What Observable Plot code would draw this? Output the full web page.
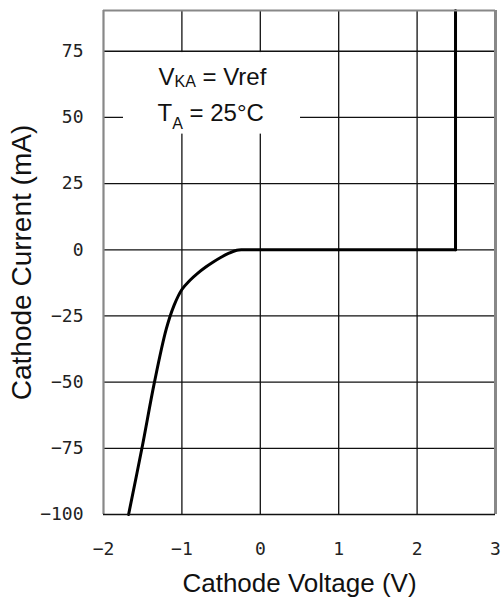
<!DOCTYPE html>
<html>
<head>
<meta charset="utf-8">
<script src="https://cdn.jsdelivr.net/npm/d3@7"></script>
<script src="https://cdn.jsdelivr.net/npm/@observablehq/plot@0.6"></script>
<style>
  html, body { margin: 0; padding: 0; background: white; overflow: hidden; }
</style>
</head>
<body>
<div id="chart"></div>
<script>
// Data
const xTicks = [-2, -1, 0, 1, 2, 3];
const yTicks = [-100, -75, -50, -25, 0, 25, 50, 75];
const kneeVoltage = [-1.68, -1.51, -1.35, -1.20, -1.10, -1.0, -0.9, -0.8, -0.7, -0.6, -0.5, -0.4, -0.3, -0.22, 0.5, 2.49];
const kneeCurrent = [-100, -75, -50, -30, -21, -15, -11.6, -8.9, -6.6, -4.6, -2.8, -1.3, -0.2, 0, 0, 0];
const riseVoltage = [2.49, 2.49];
const riseCurrent = [0, 90.4];
const xTitle = "Cathode Voltage (V)";
const yTitle = "Cathode Current (mA)";
const annotationLines = [
  [["V"], ["KA", 2], [" = Vref"]],
  [["T"], ["A", 8], [" = 25°C"]]
];

const knee = kneeVoltage.map((v, i) => ({v, i: kneeCurrent[i]}));
const rise = riseVoltage.map((v, i) => ({v, i: riseCurrent[i]}));
const fmt = d => d < 0 ? "\u2212" + Math.abs(d) : String(d);

const chart = Plot.plot({
  width: 501,
  height: 603,
  marginLeft: 103,
  marginRight: 6,
  marginTop: 10,
  marginBottom: 89,
  x: {domain: [-2, 3]},
  y: {domain: [-100, 90.4]},
  style: {fontFamily: "'Liberation Sans', Arial, sans-serif", background: "white", overflow: "visible"},
  marks: [
    Plot.ruleX(xTicks.slice(1, -1), {stroke: "#111", strokeWidth: 1.3}),
    Plot.ruleY(yTicks.slice(1), {stroke: "#111", strokeWidth: 1.3}),
    Plot.rect([{x1: -1.745, x2: 0.513, y1: 43.7, y2: 74.5}], {x1: "x1", x2: "x2", y1: "y1", y2: "y2", fill: "white"}),
    Plot.line(knee, {x: "v", y: "i", curve: "catmull-rom", stroke: "black", strokeWidth: 3}),
    Plot.line(rise, {x: "v", y: "i", stroke: "black", strokeWidth: 3}),
    Plot.ruleX([xTicks[0]], {stroke: "#888", strokeWidth: 2.2}),
    Plot.ruleX([xTicks[xTicks.length - 1]], {stroke: "#888", strokeWidth: 3}),
    Plot.ruleY([90.4], {stroke: "#888", strokeWidth: 2.2}),
    Plot.ruleY([yTicks[0]], {stroke: "#111", strokeWidth: 1.6}),
    Plot.axisX({ticks: xTicks, tickSize: 0, tickPadding: 28, tickFormat: fmt, fontFamily: "'DejaVu Sans Mono', monospace", fontSize: 18, color: "#222", label: null}),
    Plot.axisY({ticks: yTicks, tickSize: 0, tickPadding: 20, tickFormat: fmt, fontFamily: "'DejaVu Sans Mono', monospace", fontSize: 18, color: "#222", label: null}),
    Plot.text([yTitle], {frameAnchor: "left", rotate: -90, dx: -81, fontSize: 28, fill: "#111", lineAnchor: "middle", textAnchor: "middle"}),
    Plot.text([xTitle], {frameAnchor: "bottom", dy: 69, fontSize: 26, fill: "#111", lineAnchor: "middle", textAnchor: "middle"}),
    Plot.text([{x: -1.298, y: 62.1, k: 0}, {x: -1.311, y: 48.8, k: 1}], {x: "x", y: "y", text: d => "annot-line-" + d.k, textAnchor: "start", lineAnchor: "bottom", fontSize: 24, fill: "#111"})
  ]
});

document.getElementById("chart").appendChild(chart);

d3.select(chart).selectAll("text").each(function() {
  const m = /^annot-line-(\d)$/.exec(this.textContent);
  if (!m) return;
  const idx = +m[1];
  const t = d3.select(this);
  t.text(null);
  let prev = 0;
  for (const [s, shift] of annotationLines[idx]) {
    const sh = shift || 0;
    const sp = t.append("tspan").text(s).style("white-space", "pre").attr("dy", sh - prev);
    if (shift) sp.attr("font-size", 16);
    prev = sh;
  }
});
</script>
</body>
</html>
